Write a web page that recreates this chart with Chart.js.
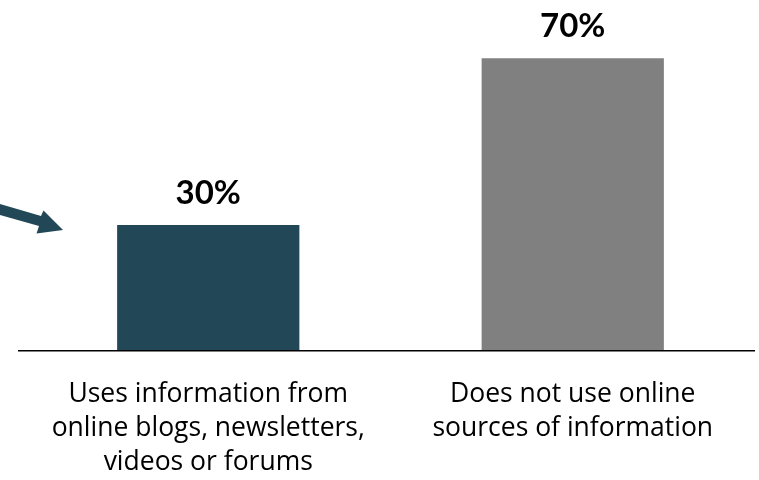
<!DOCTYPE html>
<html>
<head>
<meta charset="utf-8">
<script src="https://cdn.jsdelivr.net/npm/chart.js@4.4.0/dist/chart.umd.min.js"></script>
<style>
  html, body { margin: 0; padding: 0; background: #ffffff; }
  #wrap { width: 759px; height: 480px; }
</style>
</head>
<body>
<div id="wrap"><canvas id="c" width="759" height="480"></canvas></div>
<script>
// Survey answers: share of respondents per information source
const categories = [
  ["Uses information from", "online blogs, newsletters,", "videos or forums"],
  ["Does not use online", "sources of information"]
];
const shares = [30, 70];
const barColors = ["#224858", "#808080"];
const valueLabels = shares.map(v => v + "%");

// Percent labels above each bar
const valueLabelPlugin = {
  id: "valueLabels",
  afterDatasetsDraw(chart) {
    const ctx = chart.ctx;
    const meta = chart.getDatasetMeta(0);
    ctx.save();
    ctx.fillStyle = "#000000";
    ctx.font = "bold 33px Lato";
    ctx.textAlign = "center";
    ctx.textBaseline = "alphabetic";
    meta.data.forEach((bar, i) => {
      ctx.fillText(valueLabels[i], bar.x, bar.y - 21.5);
    });
    ctx.restore();
  }
};

// Baseline rule under the bars and the pointer arrow aimed at the first bar
const decorPlugin = {
  id: "decor",
  afterDraw(chart) {
    const ctx = chart.ctx;
    const area = chart.chartArea;
    ctx.save();
    ctx.strokeStyle = "#000000";
    ctx.lineWidth = 1.5;
    ctx.beginPath();
    ctx.moveTo(18, area.bottom + 0.75);
    ctx.lineTo(area.right, area.bottom + 0.75);
    ctx.stroke();

    ctx.fillStyle = "#224858";
    ctx.beginPath();
    ctx.moveTo(-2, 203.5);
    ctx.lineTo(41, 216);
    ctx.lineTo(43.5, 210.5);
    ctx.lineTo(63, 230);
    ctx.lineTo(36.5, 233.5);
    ctx.lineTo(39, 226);
    ctx.lineTo(-4, 214);
    ctx.closePath();
    ctx.fill();
    ctx.restore();
  }
};

new Chart(document.getElementById("c"), {
  type: "bar",
  data: {
    labels: categories,
    datasets: [{
      data: shares,
      backgroundColor: barColors,
      borderWidth: 0,
      categoryPercentage: 1.0,
      barPercentage: 0.5
    }]
  },
  options: {
    responsive: false,
    animation: false,
    layout: { padding: { left: 26, right: 4, top: 0, bottom: 0 } },
    plugins: {
      legend: { display: false },
      tooltip: { enabled: false }
    },
    scales: {
      y: { display: false, min: 0, max: 84 },
      x: {
        grid: { display: false, drawTicks: false },
        border: { display: false },
        ticks: {
          color: "#000000",
          font: { family: "'Open Sans'", size: 26.5, lineHeight: 1.27 },
          padding: 28,
          maxRotation: 0,
          autoSkip: false
        },
        afterFit(scale) { scale.height = 130; }
      }
    }
  },
  plugins: [valueLabelPlugin, decorPlugin]
});
</script>
</body>
</html>
